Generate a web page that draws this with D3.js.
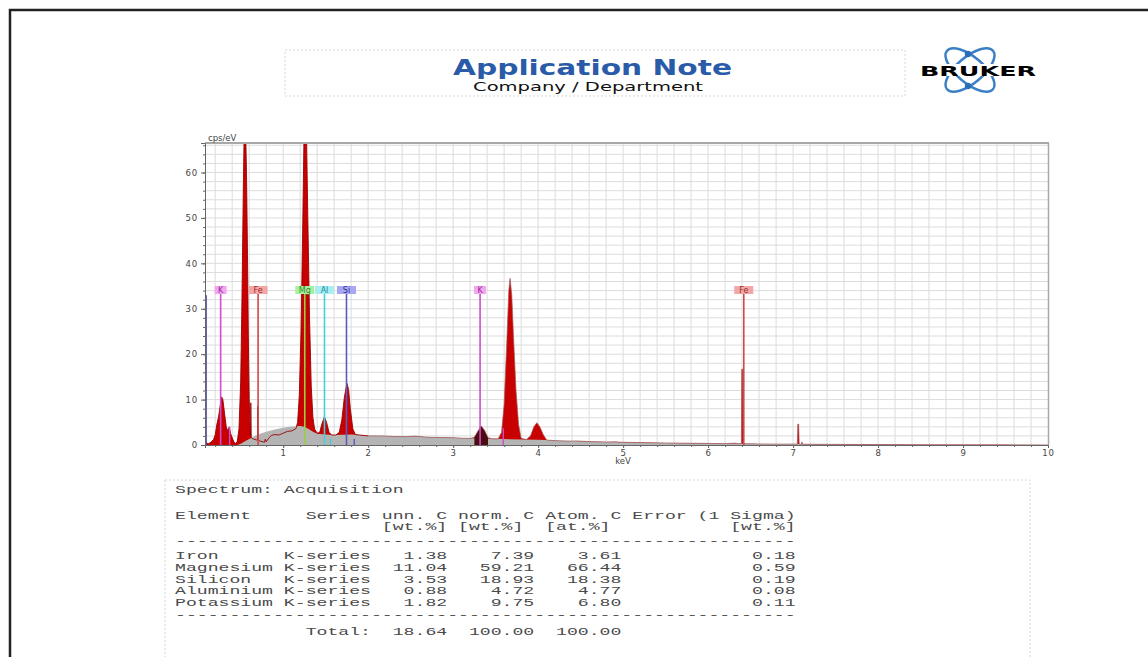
<!DOCTYPE html>
<html>
<head>
<meta charset="utf-8">
<script src="https://cdn.jsdelivr.net/npm/d3@7"></script>
<style>
  body { margin: 0; background: #fff; }
  svg { display: block; }
</style>
</head>
<body>
<svg id="page" width="1148" height="657"></svg>
<script>
const specKeV = [0.08,0.10,0.12,0.15,0.18,0.20,0.22,0.24,0.26,0.275,0.29,0.31,0.33,0.35,0.365,0.38,0.40,0.42,0.44,0.46,0.48,0.50,0.515,0.53,0.54,0.56,0.57,0.58,0.59,0.60,0.61,0.616,0.619,0.624,0.65,0.69,0.699,0.702,0.708,0.74,0.78,0.79,0.80,0.83,0.86,0.90,0.95,1.00,1.05,1.10,1.15,1.17,1.19,1.21,1.23,1.245,1.275,1.29,1.31,1.33,1.35,1.37,1.40,1.43,1.455,1.485,1.51,1.54,1.57,1.62,1.66,1.69,1.72,1.75,1.77,1.79,1.82,1.85,1.90,2.00,2.15,2.30,2.45,2.55,2.70,2.85,3.00,3.10,3.20,3.25,3.29,3.33,3.37,3.41,3.46,3.53,3.57,3.60,3.63,3.655,3.67,3.69,3.71,3.74,3.77,3.80,3.86,3.91,3.95,3.985,4.02,4.06,4.10,4.20,4.35,4.45,4.60,4.80,4.90,5.00,5.20,5.50,5.80,6.00,6.20,6.32,6.36,6.392,6.396,6.408,6.412,6.45,6.60,6.80,7.05,7.056,7.066,7.072,7.10,7.105,7.11,7.50,8.00,8.50,9.00,9.50,10.00];
const specCps = [0,0.4,0.3,0.6,1.2,2.2,4.6,6.2,8.8,10.6,10.0,7.0,4.0,3.0,4.0,2.6,1.6,0.7,0.3,0.8,3.5,14,32,55,68,68,58,42,24,10,3.5,1.8,9.3,1.6,1.3,1.1,1.1,8.5,1.0,0.8,0.6,1.3,0.7,1.5,2.1,2.3,2.2,2.6,3.0,3.1,3.6,5,11,25,48,68,68,50,28,13,6,3.5,2.6,2.8,4.6,6.2,5.0,2.8,2.2,2.2,2.8,5.5,10.5,13.6,12.2,8.0,3.5,2.3,2.2,2.0,2.0,1.85,1.85,1.95,1.7,1.65,1.6,1.5,1.45,1.7,3.0,4.2,3.2,1.6,1.35,1.35,2.8,9,22,34,36.7,33,24,12,4.5,1.5,1.2,2.0,4.0,4.9,4.0,2.3,1.1,0.95,0.85,0.9,0.75,0.65,0.7,0.6,0.55,0.45,0.38,0.35,0.3,0.4,0.3,0.3,16.7,16.7,0.3,0.28,0.24,0.2,0.2,4.6,4.6,0.2,0.18,0.7,0.18,0.14,0.1,0.07,0.05,0.03,0.02];

// fitted background (grey)
const bgKeV = [0.08,0.46,0.50,0.55,0.60,0.65,0.70,0.80,0.90,1.00,1.10,1.20,1.25,1.30,1.35,1.40,1.50,1.60,1.80,2.00,2.50,3.00,3.50,4.00,4.50,5.00,5.50,6.00,6.50,7.00,8.00,9.00,10.00];
const bgCps = [0,0,0.3,0.8,1.3,1.8,2.3,2.9,3.4,3.8,4.1,4.2,4.0,3.5,2.9,2.5,2.3,2.2,2.3,2.1,1.9,1.6,1.35,1.15,0.85,0.6,0.45,0.35,0.25,0.2,0.1,0.05,0.02];

// potassium K-alpha deconvolution (dark peak)
const kFitKeV = [3.25,3.29,3.33,3.37,3.41];
const kFitCps = [1.7,3.0,4.2,3.2,1.6];

// element identification lines
const lineElems = ["K","Fe","Mg","Al","Si","K","Fe"];
const lineKeV = [0.264,0.705,1.254,1.486,1.745,3.317,6.42];
const lineTop = 33.5;
const minorElems = ["K","Al","Si","K"];
const minorKeV = [0.37,1.557,1.836,3.59];
const minorCps = [4.0,1.4,1.3,3.7];
const strobeKeV = 0.09;
const strobeCps = 33;

const xTicks = [1,2,3,4,5,6,7,8,9,10];
const yTicks = [0,10,20,30,40,50,60];

// quantification table
const tblElements = ["Iron","Magnesium","Silicon","Aluminium","Potassium"];
const tblSeries = ["K-series","K-series","K-series","K-series","K-series"];
const unnC = [1.38,11.04,3.53,0.88,1.82];
const normC = [7.39,59.21,18.93,4.72,9.75];
const atomC = [3.61,66.44,18.38,4.77,6.80];
const errC = [0.18,0.59,0.19,0.08,0.11];
const totals = [18.64,100.00,100.00];

const elemStyle = {
  K:  {bg:"#f2a6f0", line:"#d04ccc", text:"#9a2a96"},
  Fe: {bg:"#f2a6a6", line:"#d04848", text:"#9a2a2a"},
  Mg: {bg:"#a8f0a0", line:"#9ad040", text:"#3a8a2a"},
  Al: {bg:"#a8eef2", line:"#40d0e0", text:"#1a8a9a"},
  Si: {bg:"#a8a8f2", line:"#5a5ac0", text:"#30309a"}
};

const svg = d3.select("#page");

// page frame
svg.append("path").attr("d", "M10,657 V10 H1148")
  .attr("fill", "none").attr("stroke", "#222").attr("stroke-width", 2.5);

// header box
svg.append("rect").attr("x", 285).attr("y", 50).attr("width", 620).attr("height", 46)
  .attr("fill", "none").attr("stroke", "#d6d6d6").attr("stroke-dasharray", "2,2");
svg.append("text").attr("x", 453).attr("y", 75)
  .attr("textLength", 279).attr("lengthAdjust", "spacingAndGlyphs")
  .style("font", "bold 21px 'DejaVu Sans', sans-serif").attr("fill", "#2a5ba8")
  .text("Application Note");
svg.append("text").attr("x", 473).attr("y", 90.5)
  .attr("textLength", 230).attr("lengthAdjust", "spacingAndGlyphs")
  .style("font", "13px 'DejaVu Sans', sans-serif").attr("fill", "#111")
  .text("Company / Department");

// logo
const logo = svg.append("g").attr("transform", "translate(970,70)");
[-40, 40].forEach(a => {
  logo.append("ellipse").attr("rx", 30).attr("ry", 13)
    .attr("transform", `rotate(${a})`)
    .attr("fill", "none").attr("stroke", "#3b80c6").attr("stroke-width", 2.5);
});
[-16, 16].forEach(dy => {
  logo.append("circle").attr("cx", -2).attr("cy", dy).attr("r", 3.2).attr("fill", "#2a6db8");
});
svg.append("rect").attr("x", 920).attr("y", 64).attr("width", 116).attr("height", 12).attr("fill", "#fff");
svg.append("text").attr("x", 920).attr("y", 75.5)
  .attr("textLength", 116).attr("lengthAdjust", "spacingAndGlyphs")
  .style("font", "900 14px 'DejaVu Sans', sans-serif").attr("fill", "#000")
  .text("BRUKER");

// spectrum plot
const x = d3.scaleLinear().domain([0.08, 10]).range([205, 1048]);
const y = d3.scaleLinear().domain([0, 66.5]).range([445, 143]);

const grid = svg.append("g");
grid.selectAll(".vg").data(d3.range(1, 50).map(i => i * 0.2)).enter().append("line")
  .attr("x1", d => x(d)).attr("x2", d => x(d)).attr("y1", y(0)).attr("y2", y(66.5))
  .attr("stroke", "#dcdcdc").attr("stroke-width", 1);
grid.selectAll(".hg").data(d3.range(1, 34).map(i => i * 2)).enter().append("line")
  .attr("x1", x(0.08)).attr("x2", x(10)).attr("y1", d => y(d)).attr("y2", d => y(d))
  .attr("stroke", "#dcdcdc").attr("stroke-width", 1);

const defs = svg.append("defs");
defs.append("clipPath").attr("id", "plotClip")
  .append("rect").attr("x", 205).attr("y", 143).attr("width", 843).attr("height", 302);
defs.append("clipPath").attr("id", "lowClip")
  .append("rect").attr("x", 205).attr("y", 143).attr("width", x(2) - 205).attr("height", 302);
defs.append("clipPath").attr("id", "highClip")
  .append("rect").attr("x", x(2)).attr("y", 143).attr("width", 1048 - x(2)).attr("height", 302);
const plot = svg.append("g").attr("clip-path", "url(#plotClip)");

const spec = specKeV.map((k, i) => [k, specCps[i]]);
const bg = bgKeV.map((k, i) => [k, bgCps[i]]);
const kFit = kFitKeV.map((k, i) => [k, kFitCps[i]]);

const area = d3.area().x(d => x(d[0])).y0(y(0)).y1(d => y(d[1]));
const line = d3.line().x(d => x(d[0])).y(d => y(d[1]));

plot.append("path").datum(spec).attr("d", area).attr("fill", "#c80000");
plot.append("path").datum(bg).attr("d", area).attr("fill", "#b4b4b4");
plot.append("path").datum(kFit).attr("d", area).attr("fill", "#4a0c0c");
plot.append("g").attr("clip-path", "url(#lowClip)")
  .append("path").datum(spec).attr("d", line)
  .attr("fill", "none").attr("stroke", "#9a0000").attr("stroke-width", 0.9);
plot.append("g").attr("clip-path", "url(#highClip)")
  .append("path").datum(spec).attr("d", line)
  .attr("fill", "none").attr("stroke", "#a05a5a").attr("stroke-width", 0.7);

// strobe line at left edge
plot.append("line").attr("x1", x(strobeKeV)).attr("x2", x(strobeKeV))
  .attr("y1", y(0)).attr("y2", y(strobeCps))
  .attr("stroke", "#4a4aa8").attr("stroke-width", 2);

// minor lines
plot.selectAll(".minor").data(minorKeV).enter().append("line")
  .attr("x1", d => x(d)).attr("x2", d => x(d))
  .attr("y1", y(0)).attr("y2", (d, i) => y(minorCps[i]))
  .attr("stroke", (d, i) => elemStyle[minorElems[i]].line).attr("stroke-width", 1.4);

// identification lines + labels
const marks = svg.append("g");
lineKeV.forEach((k, i) => {
  const st = elemStyle[lineElems[i]];
  marks.append("line").attr("x1", x(k)).attr("x2", x(k))
    .attr("y1", y(0)).attr("y2", y(lineTop))
    .attr("stroke", st.line).attr("stroke-width", 1.6);
  const w = lineElems[i].length === 1 ? 12 : 19;
  marks.append("rect").attr("x", x(k) - w / 2).attr("y", 286).attr("width", w).attr("height", 8)
    .attr("fill", st.bg);
  marks.append("text").attr("x", x(k)).attr("y", 293).attr("text-anchor", "middle")
    .style("font", "8px 'DejaVu Sans', sans-serif").attr("fill", st.text)
    .text(lineElems[i]);
});

// frame
svg.append("line").attr("x1", 205).attr("x2", 1049).attr("y1", 143).attr("y2", 143)
  .attr("stroke", "#a8a8a8").attr("stroke-width", 2);
svg.append("line").attr("x1", 1048.5).attr("x2", 1048.5).attr("y1", 143).attr("y2", 445)
  .attr("stroke", "#a8a8a8").attr("stroke-width", 1.5);

// axes
const xAxis = svg.append("g").attr("transform", "translate(0,445)")
  .call(d3.axisBottom(x).tickValues(xTicks).tickSize(3).tickPadding(2).tickFormat(d3.format("d")));
svg.append("g").attr("transform", "translate(0,445)")
  .call(d3.axisBottom(x).tickValues(d3.range(1, 50).map(i => i * 0.2)).tickSize(2).tickFormat(""))
  .select(".domain").remove();
const yAxis = svg.append("g").attr("transform", "translate(205,0)")
  .call(d3.axisLeft(y).tickValues(yTicks).tickSize(4).tickPadding(3));
svg.append("g").attr("transform", "translate(205,0)")
  .call(d3.axisLeft(y).tickValues(d3.range(0, 34).map(i => i * 2)).tickSize(2).tickFormat(""))
  .select(".domain").remove();
svg.selectAll(".tick line").attr("stroke", "#666");
svg.selectAll(".domain").attr("stroke", "#666");
[xAxis, yAxis].forEach(a => a.selectAll("text")
  .style("font", "8.5px 'DejaVu Sans', sans-serif").attr("fill", "#444").style("letter-spacing", "0.8px"));

svg.append("text").attr("x", 208).attr("y", 141)
  .style("font", "8.5px 'DejaVu Sans', sans-serif").attr("fill", "#444").text("cps/eV");
svg.append("text").attr("x", x(5)).attr("y", 464).attr("text-anchor", "middle")
  .style("font", "8.5px 'DejaVu Sans', sans-serif").attr("fill", "#444").text("keV");

// quantification table
svg.append("rect").attr("x", 165).attr("y", 480).attr("width", 865).attr("height", 190)
  .attr("fill", "none").attr("stroke", "#d6d6d6").attr("stroke-dasharray", "2,2");

const rows = [];
rows.push(["Spectrum: Acquisition", 493]);
rows.push(["Element".padEnd(12) + "Series" + " unn. C norm. C Atom. C Error (1 Sigma)", 519]);
rows.push([" ".repeat(19) + "[wt.%]" + " " + "[wt.%]" + "  " + "[at.%]" + " ".repeat(11) + "[wt.%]", 530.5]);
rows.push(["-".repeat(57), 544]);
tblElements.forEach((el, i) => {
  rows.push([el.padEnd(10) + tblSeries[i] + unnC[i].toFixed(2).padStart(7) +
    normC[i].toFixed(2).padStart(8) + atomC[i].toFixed(2).padStart(8) +
    errC[i].toFixed(2).padStart(16), 559.5 + i * 11.6]);
});
rows.push(["-".repeat(57), 618]);
rows.push([" ".repeat(12) + "Total:" + totals[0].toFixed(2).padStart(7) +
  totals[1].toFixed(2).padStart(8) + totals[2].toFixed(2).padStart(8), 635]);

const tbl = svg.append("g").attr("transform", "translate(175,0) scale(1.65,1)");
tbl.selectAll("text").data(rows).enter().append("text")
  .attr("x", 0).attr("y", d => d[1])
  .style("white-space", "pre")
  .style("font", "11px 'Liberation Mono', monospace").attr("fill", "#4a4a4a")
  .text(d => d[0]);
</script>
</body>
</html>
